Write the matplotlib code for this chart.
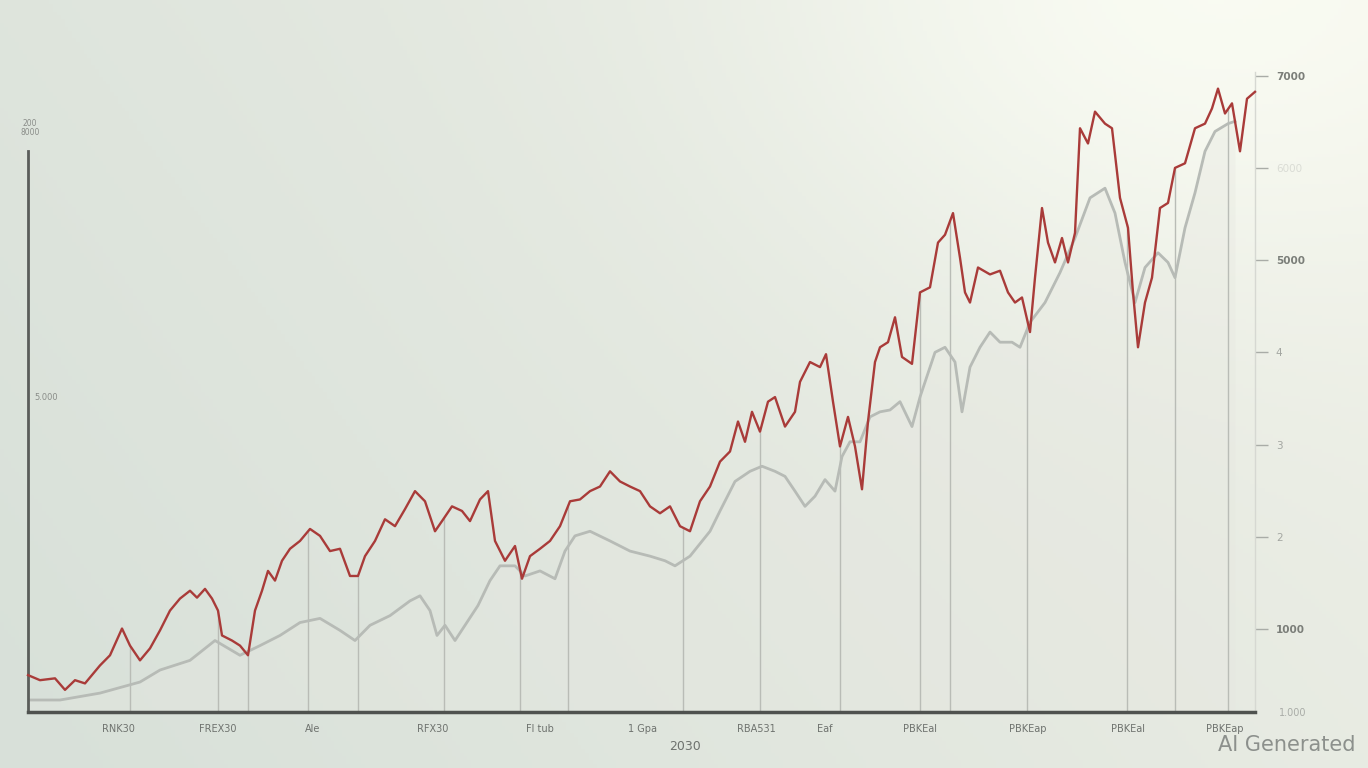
import numpy as np
import matplotlib
matplotlib.use("Agg")
import matplotlib.pyplot as plt

# series: (time step, index value)
red_points = [
    (0, 500), (12, 445), (27, 465), (37, 340), (47, 445), (57, 410), (72, 605), (82, 715),
    (94, 1005), (102, 820), (112, 660), (122, 790), (132, 985), (142, 1200), (152, 1330),
    (162, 1415), (169, 1340), (177, 1435), (184, 1330), (190, 1200), (194, 930), (204, 875),
    (212, 820), (220, 715), (227, 1200), (234, 1415), (240, 1630), (247, 1525), (254, 1740),
    (262, 1870), (272, 1955), (282, 2085), (292, 2010), (302, 1845), (312, 1870), (322, 1575),
    (330, 1575), (337, 1790), (347, 1955), (357, 2190), (367, 2115), (377, 2300), (387, 2495),
    (397, 2385), (407, 2060), (414, 2170), (424, 2330), (434, 2280), (442, 2170), (452, 2405),
    (460, 2495), (467, 1955), (477, 1740), (487, 1900), (494, 1545), (502, 1790), (512, 1870),
    (522, 1955), (532, 2115), (542, 2385), (552, 2405), (562, 2495), (572, 2545), (582, 2710),
    (592, 2600), (602, 2545), (612, 2495), (622, 2330), (632, 2255), (642, 2330), (652, 2115),
    (662, 2060), (672, 2385), (682, 2545), (692, 2815), (702, 2925), (710, 3250), (717, 3030),
    (724, 3355), (732, 3140), (740, 3465), (747, 3515), (757, 3195), (767, 3355), (772, 3680),
    (782, 3895), (792, 3840), (798, 3980), (805, 3465), (812, 2980), (820, 3300), (827, 2980),
    (834, 2515), (840, 3250), (847, 3895), (852, 4055), (860, 4110), (867, 4380), (874, 3950),
    (884, 3875), (892, 4650), (902, 4705), (910, 5190), (917, 5275), (925, 5510), (932, 5025),
    (937, 4650), (942, 4540), (950, 4920), (962, 4845), (972, 4885), (980, 4650), (987, 4540),
    (994, 4595), (1002, 4220), (1007, 4810), (1014, 5565), (1020, 5190), (1027, 4975),
    (1034, 5240), (1040, 4975), (1047, 5295), (1052, 6430), (1060, 6265), (1067, 6610),
    (1077, 6480), (1084, 6430), (1092, 5675), (1100, 5350), (1105, 4650), (1110, 4055),
    (1117, 4540), (1124, 4810), (1132, 5565), (1140, 5620), (1147, 6000), (1157, 6050),
    (1167, 6430), (1177, 6480), (1184, 6645), (1190, 6860), (1197, 6590), (1204, 6700),
    (1212, 6180), (1219, 6750), (1227, 6825),
]

gray_points = [
    (0, 230), (32, 230), (72, 305), (112, 425), (132, 555), (162, 660), (187, 875), (212, 715),
    (232, 820), (252, 930), (272, 1070), (292, 1115), (312, 985), (327, 875), (342, 1040),
    (362, 1145), (382, 1305), (392, 1360), (402, 1200), (409, 930), (417, 1040), (427, 875),
    (437, 1040), (450, 1255), (462, 1525), (472, 1685), (487, 1685), (497, 1575), (512, 1630),
    (527, 1545), (537, 1845), (547, 2010), (562, 2060), (582, 1955), (602, 1845), (622, 1790),
    (637, 1740), (647, 1685), (662, 1790), (682, 2060), (692, 2280), (707, 2600), (722, 2710),
    (734, 2765), (747, 2710), (757, 2655), (767, 2495), (777, 2330), (787, 2440), (797, 2620),
    (807, 2495), (814, 2870), (822, 3030), (832, 3030), (842, 3300), (852, 3355), (862, 3375),
    (872, 3465), (884, 3195), (892, 3515), (907, 4000), (917, 4055), (927, 3895), (934, 3355),
    (942, 3840), (952, 4055), (962, 4220), (972, 4110), (984, 4110), (992, 4055), (1002, 4325),
    (1017, 4540), (1032, 4865), (1047, 5240), (1062, 5675), (1077, 5780), (1087, 5510),
    (1097, 4975), (1107, 4540), (1117, 4920), (1130, 5080), (1140, 4975), (1147, 4810),
    (1157, 5350), (1167, 5730), (1177, 6180), (1187, 6395), (1200, 6480), (1207, 6505),
]

drop_t = [102, 190, 220, 280, 330, 416, 492, 540, 655, 732, 812, 892, 922, 999, 1099, 1147, 1200]

xtick_t = [90, 190, 285, 405, 512, 615, 728, 797, 892, 1000, 1100, 1197]
xtick_labels = ["RNK30", "FREX30", "Ale", "RFX30", "Fl tub", "1 Gpa",
                "RBA531", "Eaf", "PBKEal", "PBKEap", "PBKEal", "PBKEap"]

ytick_vals = [1000, 2000, 3000, 4000, 5000, 6000, 7000]
ytick_labels = ["1000", "2", "3", "4", "5000", "6000", "7000"]

red_t, red_v = map(np.array, zip(*red_points))
gray_t, gray_v = map(np.array, zip(*gray_points))

W, H = 1368, 768
fig = plt.figure(figsize=(W / 100, H / 100), dpi=100)

# soft background: bright near top right, greener grey toward the left
bg = fig.add_axes([0, 0, 1, 1], zorder=-10)
yy, xx = np.mgrid[0:1:200j, 0:1:360j]
glow = np.exp(-(((xx - 0.85) / 0.3) ** 2 + (yy / 0.4) ** 2))
shade = np.clip(0.75 * (1 - xx) + 0.3 * yy, 0, 1)
top = np.array([0.935, 0.940, 0.905])
bot = np.array([0.850, 0.882, 0.852])
img = top[None, None, :] * (1 - shade[..., None]) + bot[None, None, :] * shade[..., None]
img = img + glow[..., None] * 0.05
bg.imshow(np.clip(img, 0, 1), aspect="auto", extent=[0, 1, 0, 1], origin="upper")
bg.axis("off")

left, right = 28 / W, 1255 / W
bottom, topy = (H - 712) / H, (H - 72) / H
ax = fig.add_axes([left, bottom, right - left, topy - bottom])
ax.set_facecolor("none")
ax.set_xlim(0, 1227)
ax.set_ylim(100, 7040)

ax.fill_between(gray_t, gray_v, 100, color="#e6e7e0", alpha=0.35, lw=0)

drop_h = np.interp(drop_t, red_t, red_v)
ax.vlines(drop_t, 100, drop_h, color="#b9bcb6", lw=1.0, zorder=1)

ax.plot(gray_t, gray_v, color="#b7bbb6", lw=2.0, zorder=2)
ax.plot(red_t, red_v, color="#a93b39", lw=1.7, zorder=3, clip_on=False)

ax.spines["top"].set_visible(False)
ax.spines["right"].set_color("#d6d8d2")
ax.spines["right"].set_linewidth(1.0)
ax.spines["bottom"].set_color("#4f524f")
ax.spines["bottom"].set_linewidth(2.5)
ax.spines["left"].set_color("#5a5d5a")
ax.spines["left"].set_linewidth(2.0)
ax.spines["left"].set_bounds(100, 6180)

ax.set_xticks(xtick_t)
ax.set_xticklabels(xtick_labels, fontsize=7, color="#6e726e")
ax.tick_params(axis="x", length=0, pad=9)

ax.yaxis.tick_right()
ax.set_yticks(ytick_vals)
ax.set_yticklabels(ytick_labels, fontsize=7.5)
ax.tick_params(axis="y", length=9, width=1, color="#a9aca7", pad=6)
for lab, v in zip(ax.get_yticklabels(), ytick_vals):
    if v in (1000, 5000, 7000):
        lab.set_color("#7b7e79")
        lab.set_fontweight("bold")
    elif v == 6000:
        lab.set_color("#dadcd5")
    else:
        lab.set_color("#a3a6a1")

# loose labels around the frame
fig.text(30 / W, 1 - 128 / H, "200\n8000", fontsize=5.5, color="#8a8d89",
         ha="center", va="center", linespacing=0.9)
fig.text(46 / W, 1 - 398 / H, "5.000", fontsize=6, color="#8a8d89", ha="center", va="center")
fig.text(1293 / W, 1 - 713 / H, "1.000", fontsize=7, color="#a9aca7", ha="center", va="center")
fig.text(685 / W, 1 - 746 / H, "2030", fontsize=9, color="#6e726e", ha="center", va="center")
fig.text(1356 / W, 1 - 745 / H, "AI Generated", fontsize=15, color="#8c908c",
         ha="right", va="center")

fig.savefig("out.png", dpi=100)
